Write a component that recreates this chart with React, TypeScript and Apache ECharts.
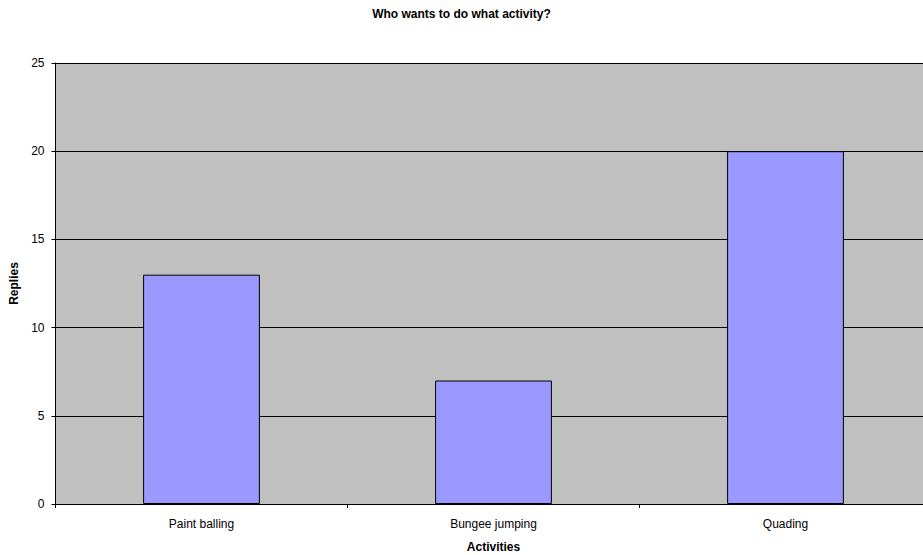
import React, { useEffect, useRef } from "react";
import * as echarts from "echarts";

const categories = ["Paint balling", "Bungee jumping", "Quading"];
const replies = [13, 7, 20];
const yTicks = { min: 0, max: 25, interval: 5 };

export default function App() {
  const ref = useRef<HTMLDivElement>(null);
  useEffect(() => {
    const chart = echarts.init(ref.current!, null, { renderer: "svg" });
    const font = "'Liberation Sans', Arial, sans-serif";
    chart.setOption({
      animation: false,
      title: {
        text: "Who wants to do what activity?",
        left: "center",
        top: 3,
        textStyle: { fontFamily: font, fontSize: 12, fontWeight: "bold", color: "#000" },
      },
      grid: {
        left: 55.5,
        width: 876,
        top: 63,
        height: 441,
        containLabel: false,
        outerBoundsMode: "none",
        show: true,
        backgroundColor: "#C0C0C0",
        borderWidth: 0,
      },
      xAxis: {
        type: "category",
        data: categories,
        name: "Activities",
        nameLocation: "middle",
        nameGap: 37,
        nameTextStyle: { fontFamily: font, fontSize: 12, fontWeight: "bold", color: "#000" },
        axisLine: { lineStyle: { color: "#000", width: 1 } },
        axisTick: { show: true, length: 4, lineStyle: { color: "#000" } },
        axisLabel: { fontFamily: font, fontSize: 12, color: "#000", margin: 14 },
      },
      yAxis: {
        type: "value",
        min: yTicks.min,
        max: yTicks.max,
        interval: yTicks.interval,
        name: "Replies",
        nameLocation: "middle",
        nameGap: 35,
        nameTextStyle: { fontFamily: font, fontSize: 12, fontWeight: "bold", color: "#000" },
        axisLine: { show: true, lineStyle: { color: "#000", width: 1 } },
        axisTick: { show: true, length: 4, lineStyle: { color: "#000" } },
        axisLabel: { fontFamily: font, fontSize: 12, color: "#000", margin: 11 },
        splitLine: { show: true, lineStyle: { color: "#000", width: 1 } },
      },
      series: [
        {
          type: "bar",
          data: replies,
          barWidth: "40%",
          itemStyle: { color: "#9999FF", borderColor: "#000", borderWidth: 1 },
        },
      ],
    });
    return () => chart.dispose();
  }, []);
  return <div ref={ref} style={{ width: 923, height: 555, position: "absolute", left: 0, top: 0 }} />;
}
